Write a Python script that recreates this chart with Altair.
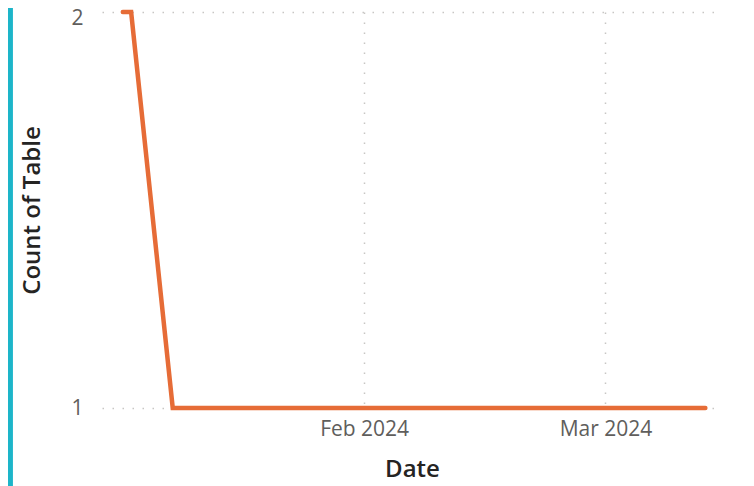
import altair as alt
import pandas as pd

# Data
dates = ["2024-01-03T00:00:00", "2024-01-04T00:00:00", "2024-01-09T00:00:00", "2024-03-13T00:00:00"]
counts = [2, 2, 1, 1]

x_tick_dates = [alt.DateTime(year=2024, month=2, date=1), alt.DateTime(year=2024, month=3, date=1)]
y_ticks = [1, 2]
x_domain = [alt.DateTime(year=2023, month=12, date=31, hours=12), alt.DateTime(year=2024, month=3, date=15)]

df = pd.DataFrame({"Date": dates, "Count": counts})

FONT = "Open Sans"

line = alt.Chart(df).mark_line(
    color="#E66C37", strokeWidth=4.5, strokeCap="round", strokeJoin="miter"
).encode(
    x=alt.X("Date:T",
            scale=alt.Scale(domain=x_domain, nice=False),
            axis=alt.Axis(values=x_tick_dates, format="%b %Y", title="Date",
                          grid=True, gridDash=[1.5, 8.5], gridColor="#C8C6C4", gridWidth=1.5,
                          ticks=False, tickSize=0, domain=False,
                          labelFont=FONT, labelFontSize=21, labelColor="#605E5C",
                          labelPadding=10,
                          titleFont=FONT, titleFontSize=24, titleFontWeight=600, titleColor="#252423",
                          titleBaseline="alphabetic", titleY=68)),
    y=alt.Y("Count:Q",
            scale=alt.Scale(domain=[1, 2], nice=False, zero=False),
            axis=alt.Axis(values=y_ticks, format="d", title="Count of Table",
                          grid=True, gridDash=[1.5, 8.5], gridColor="#C8C6C4", gridWidth=1.5,
                          ticks=False, tickSize=0, domain=False,
                          labelFont=FONT, labelFontSize=21, labelColor="#605E5C",
                          labelPadding=19, labelFlush=False,
                          labelOffset={"condition": {"test": "datum.value >= 2", "value": 6}, "value": 0},
                          titleFont=FONT, titleFontSize=24, titleFontWeight=600, titleColor="#252423",
                          titleBaseline="alphabetic", titleX=-63, titleY=198)),
)

bar = alt.Chart(df).mark_rect(color="#1DB5C9").encode(
    x=alt.value(-94), x2=alt.value(-89.5), y=alt.value(-4), y2=alt.value(474)
)

chart = alt.layer(bar, line).properties(
    width=620, height=396,
    padding={"left": 94, "top": 4, "right": 24, "bottom": 78},
    autosize=alt.AutoSizeParams(type="none"),
).configure_view(stroke=None)

chart.save("out.html", embed_options={"renderer": "svg", "actions": False})
